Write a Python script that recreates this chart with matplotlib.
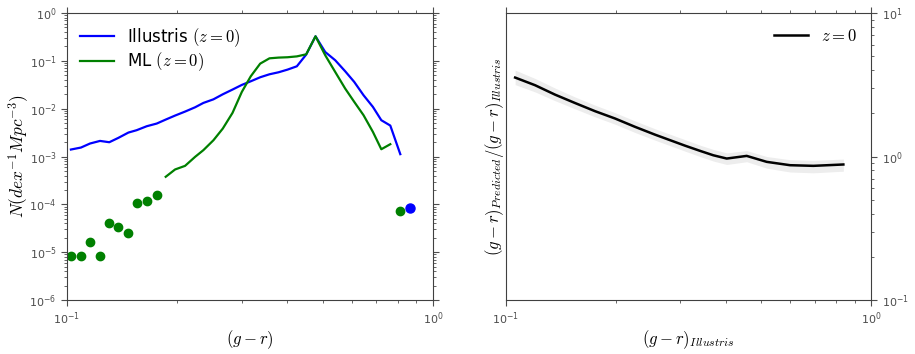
import matplotlib
matplotlib.use('Agg')
import matplotlib.pyplot as plt
from matplotlib.ticker import NullFormatter

plt.rcParams['mathtext.fontset'] = 'cm'

# --- colour distribution, Illustris vs ML (left panel) ---
gr_bins = [0.1025, 0.1092, 0.1156, 0.1231, 0.1305, 0.1381, 0.1472, 0.1550, 0.1652, 0.1759,
           0.1861, 0.1974, 0.2102, 0.2239, 0.2359, 0.2513, 0.2665, 0.2833, 0.3004, 0.3178,
           0.3372, 0.3575, 0.3785, 0.4005, 0.4247, 0.4503, 0.4776, 0.5077, 0.5406, 0.5757,
           0.6093, 0.6461, 0.6853, 0.7225, 0.7645, 0.8141]
n_illustris = [1.40e-3, 1.54e-3, 1.87e-3, 2.12e-3, 1.99e-3, 2.45e-3, 3.17e-3, 3.55e-3, 4.30e-3, 4.89e-3,
               5.92e-3, 7.18e-3, 8.70e-3, 1.07e-2, 1.32e-2, 1.57e-2, 2.00e-2, 2.51e-2, 3.14e-2, 3.74e-2,
               4.54e-2, 5.24e-2, 5.77e-2, 6.56e-2, 7.70e-2, 0.135, 0.326, 0.153, 0.103, 6.05e-2,
               3.63e-2, 1.91e-2, 1.09e-2, 5.74e-3, 4.44e-3, 1.12e-3]

gr_ml = gr_bins[10:35]
n_ml = [3.77e-4, 5.36e-4, 6.38e-4, 9.84e-4, 1.36e-3, 2.19e-3, 3.84e-3, 8.16e-3, 2.24e-2, 4.76e-2,
        8.75e-2, 0.113, 0.117, 0.119, 0.124, 0.137, 0.326, 0.131, 5.86e-2, 2.63e-2,
        1.39e-2, 7.30e-3, 3.27e-3, 1.42e-3, 1.81e-3]

# isolated bins (single points)
gr_ml_pts = [0.1025, 0.1092, 0.1156, 0.1231, 0.1305, 0.1381, 0.1472, 0.1550, 0.1652, 0.1759, 0.8141]
n_ml_pts = [8.16e-6, 8.16e-6, 1.65e-5, 8.16e-6, 4.12e-5, 3.29e-5, 2.47e-5, 1.06e-4, 1.20e-4, 1.56e-4, 7.34e-5]
gr_ill_pts = [0.863]
n_ill_pts = [8.2e-5]

# --- ratio predicted / Illustris (right panel) ---
gr_ratio = [0.1061, 0.1203, 0.1364, 0.1547, 0.1755, 0.1991, 0.2258, 0.2561, 0.3094,
            0.3400, 0.3697, 0.4022, 0.4561, 0.5173, 0.5992, 0.6940, 0.8384]
ratio = [3.55, 3.14, 2.70, 2.36, 2.07, 1.84, 1.61, 1.42, 1.19,
         1.095, 1.02, 0.968, 1.01, 0.918, 0.870, 0.861, 0.880]
ratio_hi = [4.00, 3.50, 3.00, 2.60, 2.28, 2.02, 1.77, 1.56, 1.31,
            1.20, 1.12, 1.06, 1.10, 1.00, 0.95, 0.94, 0.96]
ratio_lo = [3.17, 2.82, 2.45, 2.15, 1.89, 1.68, 1.47, 1.30, 1.09,
            1.00, 0.93, 0.88, 0.92, 0.83, 0.78, 0.77, 0.79]

fig = plt.figure(figsize=(9.15, 3.54), dpi=100)
ax1 = fig.add_axes([0.0732, 0.1525, 0.4, 0.8107])
ax2 = fig.add_axes([0.5527, 0.1525, 0.3996, 0.8107])

ax1.plot(gr_bins, n_illustris, color='blue', lw=1.6, label='Illustris $(z=0)$')
ax1.plot(gr_ml, n_ml, color='green', lw=1.6, label='ML $(z=0)$')
ax1.plot(gr_ml_pts, n_ml_pts, 'o', color='green', mec='green', ms=6)
ax1.plot(gr_ill_pts, n_ill_pts, 'o', color='blue', mec='blue', ms=6.5)
ax1.set_xscale('log')
ax1.set_yscale('log')
ax1.set_xlim(0.1, 1)
ax1.set_ylim(1e-6, 1)
ax1.set_xlabel('$(g-r)$', fontsize=12, labelpad=1)
ax1.set_ylabel('$N(dex^{-1}Mpc^{-3})$', fontsize=12.5, labelpad=-1)
ax1.legend(loc='upper left', frameon=False, fontsize=12, handlelength=2.0,
           labelspacing=0.1, borderaxespad=0.4)

ax2.fill_between(gr_ratio, ratio_lo, ratio_hi, color='0.93', lw=0)
ax2.plot(gr_ratio, ratio, color='black', lw=1.8, label='$z=0$')
ax2.set_xscale('log')
ax2.set_yscale('log')
ax2.set_xlim(0.1, 1)
ax2.set_ylim(0.1, 10)
ax2.set_xlabel('$(g-r)_{Illustris}$', fontsize=12, labelpad=1)
ax2.set_ylabel('$(g-r)_{Predicted}/(g-r)_{Illustris}$', fontsize=12, labelpad=0)
ax2.yaxis.tick_right()
ax2.legend(loc='upper right', frameon=False, fontsize=12, handlelength=2.0,
           borderaxespad=0.45)

for ax in (ax1, ax2):
    for s in ax.spines.values():
        s.set_color('0.25')
    ax.xaxis.set_minor_formatter(NullFormatter())
    ax.yaxis.set_minor_formatter(NullFormatter())
    ax.tick_params(which='both', direction='out', labelsize=8, colors='0.3', top=True)
    ax.tick_params(which='major', length=4)
    ax.tick_params(which='minor', length=2)
ax1.tick_params(which='both', right=True)

plt.savefig('out.png', dpi=100)
